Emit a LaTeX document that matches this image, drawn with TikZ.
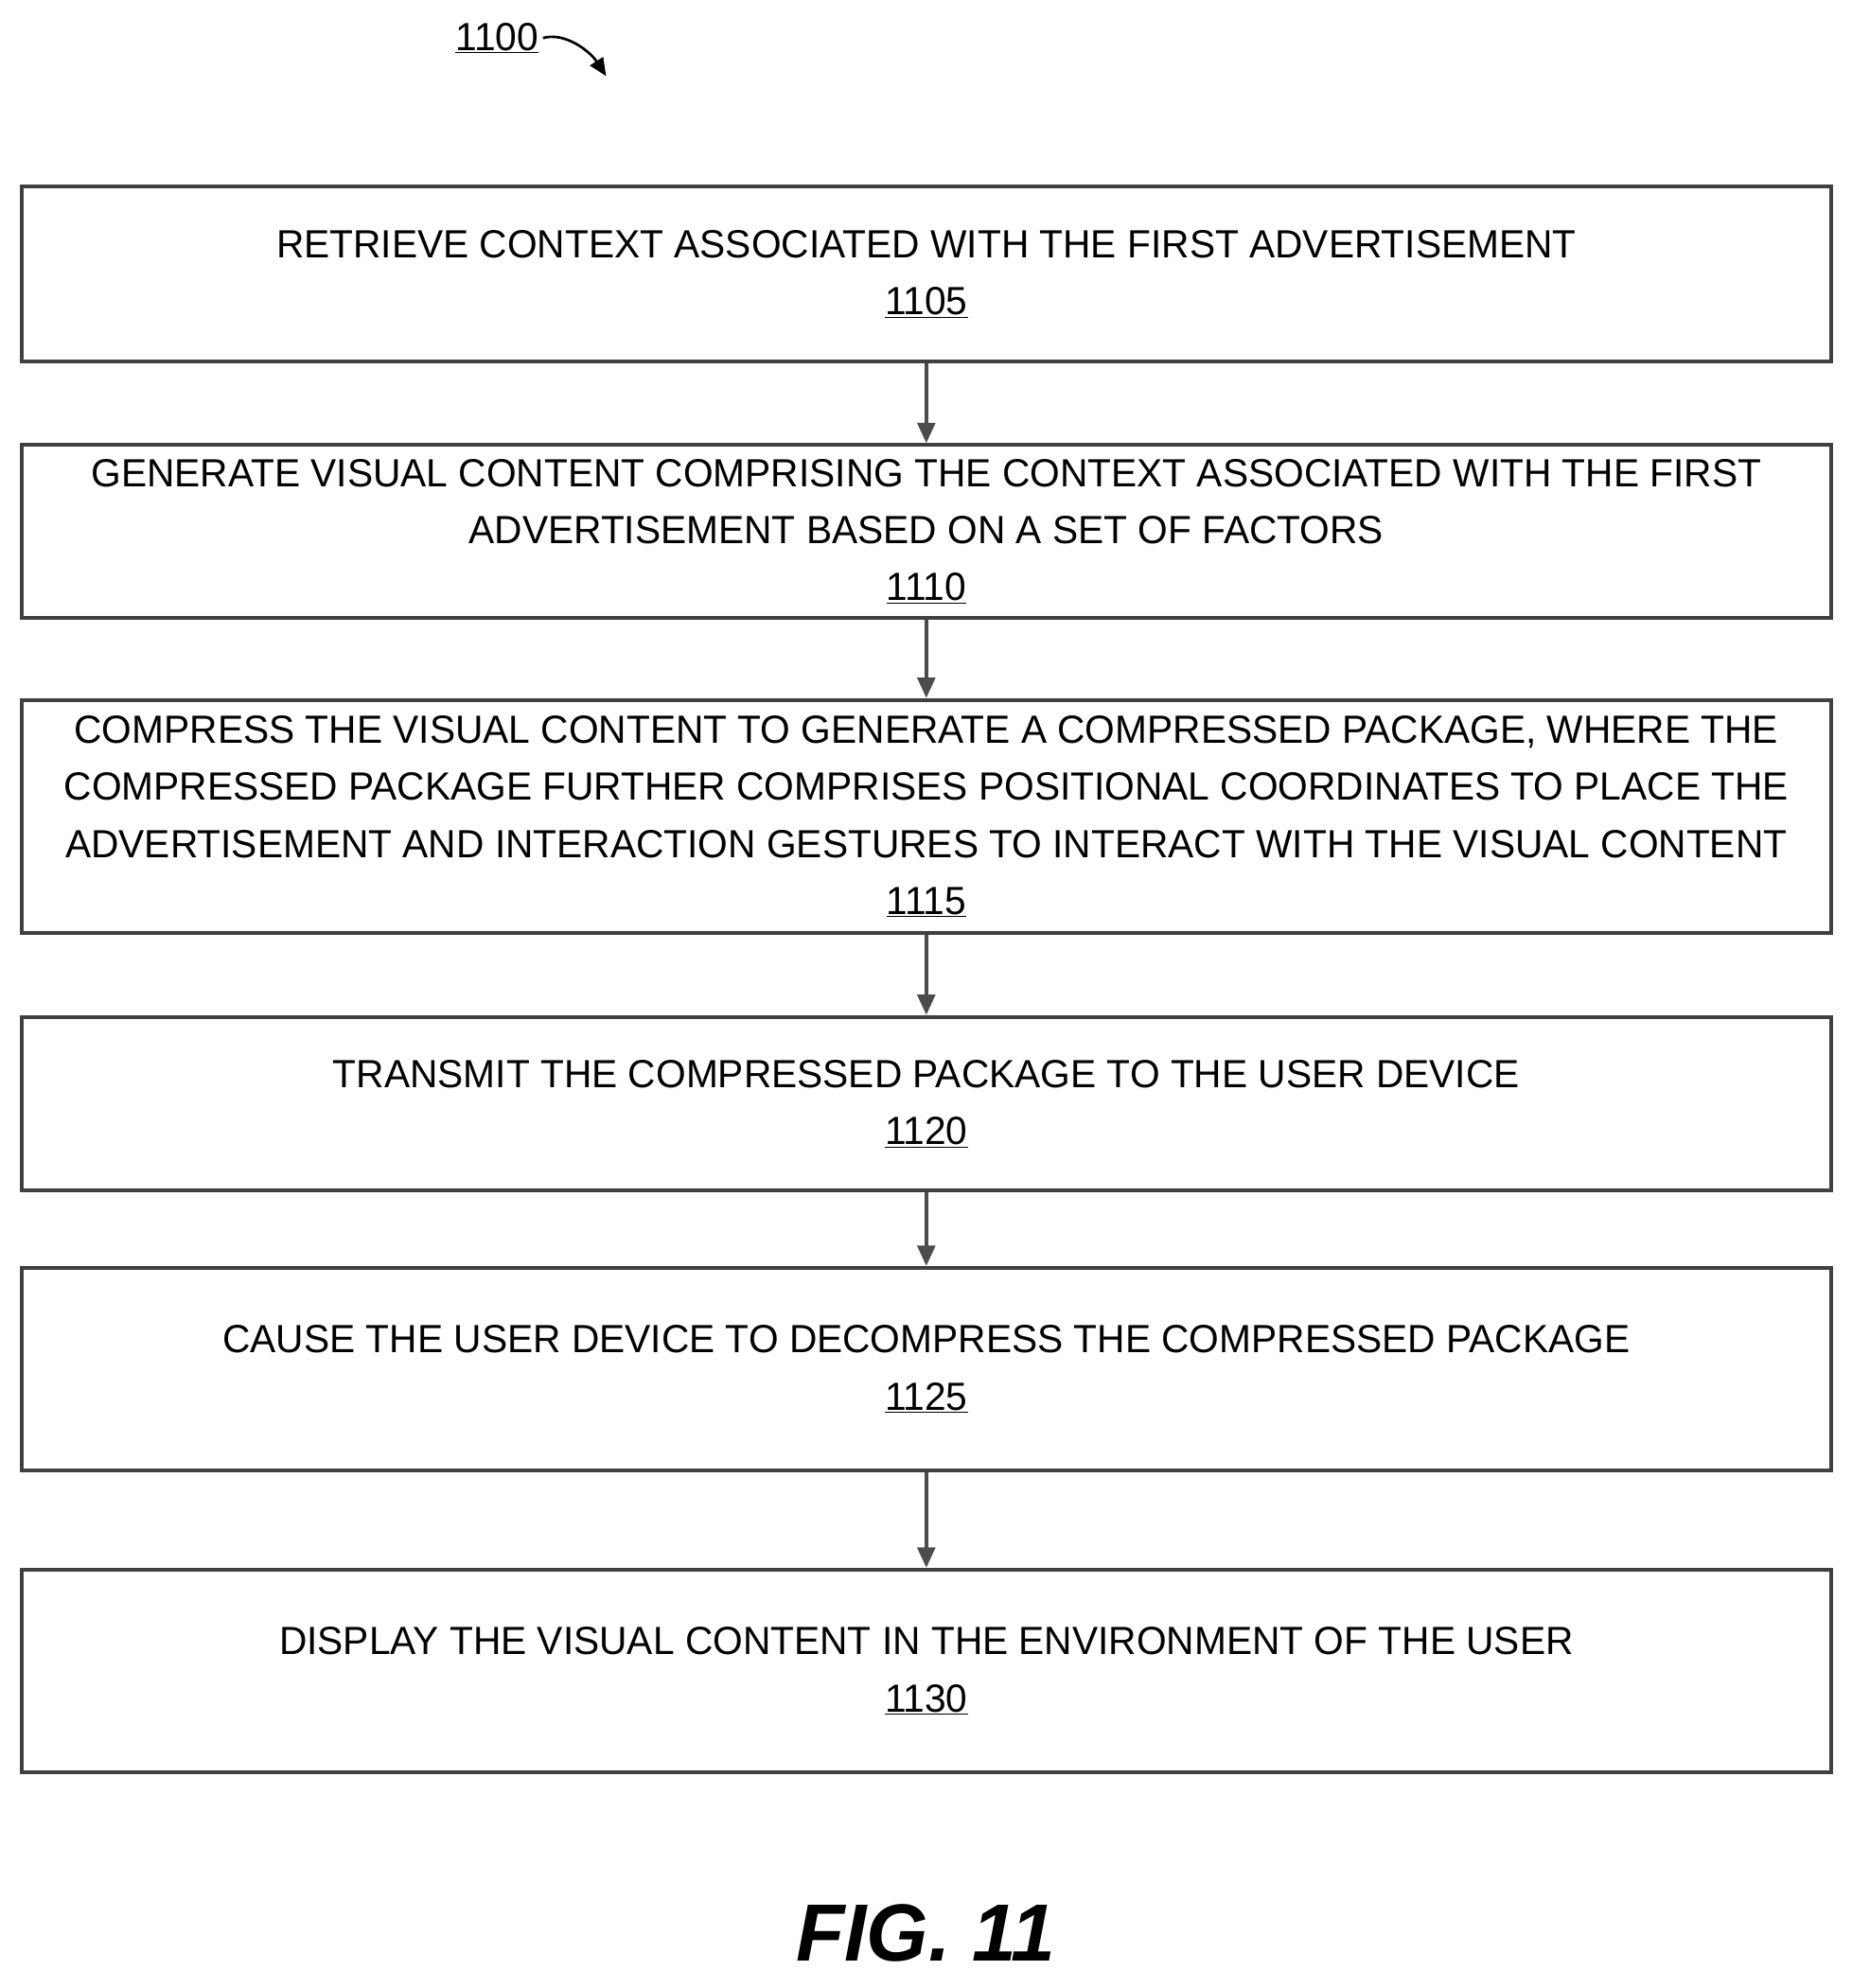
\documentclass[tikz,border=0pt]{standalone}
\usepackage{fontspec}
\setmainfont{Liberation Sans}[FakeStretch=0.98]
\usetikzlibrary{arrows.meta}
\begin{document}
\begin{tikzpicture}[x=1pt,y=-1pt,
 box/.style={draw=black!75,line width=3pt,minimum width=1427pt,inner sep=0pt,align=center,font=\fontsize{31}{45}\selectfont},
 arr/.style={draw=black!70,line width=2.5pt,-{Triangle[length=16pt,width=14pt]}}]
\useasboundingbox (0,0) rectangle (1460,1568);
\node[box,minimum height=138pt] (b1) at (730.5,216) {RETRIEVE CONTEXT ASSOCIATED WITH THE FIRST ADVERTISEMENT\\\underline{1105}};
\node[box,minimum height=136pt] (b2) at (730.5,419) {GENERATE VISUAL CONTENT COMPRISING THE CONTEXT ASSOCIATED WITH THE FIRST\\ADVERTISEMENT BASED ON A SET OF FACTORS\\\underline{1110}};
\node[box,minimum height=184pt] (b3) at (730.5,644) {COMPRESS THE VISUAL CONTENT TO GENERATE A COMPRESSED PACKAGE, WHERE THE\\COMPRESSED PACKAGE FURTHER COMPRISES POSITIONAL COORDINATES TO PLACE THE\\ADVERTISEMENT AND INTERACTION GESTURES TO INTERACT WITH THE VISUAL CONTENT\\\underline{1115}};
\node[box,minimum height=137pt] (b4) at (730.5,870.5) {TRANSMIT THE COMPRESSED PACKAGE TO THE USER DEVICE\\\underline{1120}};
\node[box,minimum height=160pt] (b5) at (730.5,1080) {CAUSE THE USER DEVICE TO DECOMPRESS THE COMPRESSED PACKAGE\\\underline{1125}};
\node[box,minimum height=160pt] (b6) at (730.5,1318) {DISPLAY THE VISUAL CONTENT IN THE ENVIRONMENT OF THE USER\\\underline{1130}};
\draw[arr] (b1) -- (b2);
\draw[arr] (b2) -- (b3);
\draw[arr] (b3) -- (b4);
\draw[arr] (b4) -- (b5);
\draw[arr] (b5) -- (b6);
\node[font=\fontsize{31}{36}\selectfont] (lab) at (392,30) {\underline{1100}};
\coordinate (tip) at (478,60);
\draw[line width=2pt,-{Triangle[length=14pt,width=12pt]}] (lab.east) .. controls (445,25) and (465,40) .. (tip);
\node[font=\fontsize{64}{70}\selectfont\bfseries\itshape] (fig) at (730,1525) {FIG. 11};
\end{tikzpicture}
\end{document}
